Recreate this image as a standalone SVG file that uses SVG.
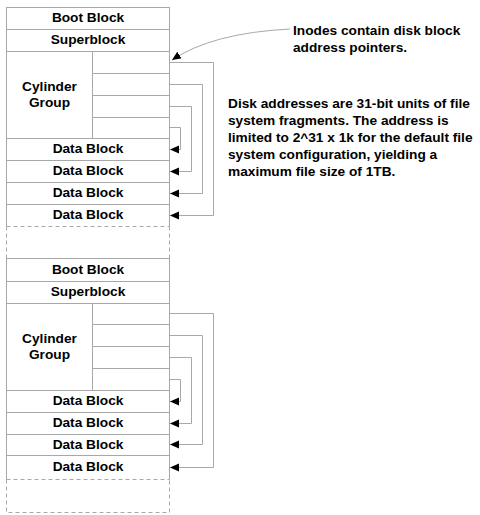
<svg xmlns="http://www.w3.org/2000/svg" width="480" height="515" viewBox="0 0 480 515">
<style>
.box{fill:#fff;stroke:#a8a8a8;stroke-width:1}
.ln{stroke:#a8a8a8;stroke-width:1;fill:none}
.dash{stroke:#a8a8a8;stroke-width:1;fill:none;stroke-dasharray:4 3}
.con{stroke:#a8a8a8;stroke-width:1;fill:none;marker-end:url(#ah)}
text{font-family:"Liberation Sans",Arial,Helvetica,sans-serif;font-weight:bold;font-size:13.7px;fill:#000}
.c{text-anchor:middle}
</style>
<defs>
<marker id="ah" markerUnits="userSpaceOnUse" markerWidth="10" markerHeight="9" refX="9" refY="4" orient="auto" viewBox="0 0 10 9">
<path d="M0,0 L9,4 L0,8 z" fill="#000"/>
</marker>
</defs>
<rect width="480" height="515" fill="#fff"/>

<!-- Stack 1 -->
<g id="stack1">
<path class="dash" d="M6.5 226.5 H169.5 M6.5 226.5 V258 M169.5 226.5 V258"/>
<g id="s1-boot"><rect class="box" x="6.5" y="7.5" width="163" height="22"/><text class="c" x="88" y="22">Boot Block</text></g>
<g id="s1-super"><rect class="box" x="6.5" y="29.5" width="163" height="22"/><text class="c" x="88" y="44">Superblock</text></g>
<g id="s1-cyl"><rect class="box" x="6.5" y="51.5" width="163" height="87"/>
<path class="ln" d="M92.5 51.5 V138.5 M92.5 73.5 H169.5 M92.5 95.5 H169.5 M92.5 117.5 H169.5"/>
<text class="c" x="49.5" y="91">Cylinder</text><text class="c" x="49.5" y="107">Group</text></g>
<g id="s1-d1"><rect class="box" x="6.5" y="138.5" width="163" height="22"/><text class="c" x="88" y="153">Data Block</text></g>
<g id="s1-d2"><rect class="box" x="6.5" y="160.5" width="163" height="22"/><text class="c" x="88" y="175">Data Block</text></g>
<g id="s1-d3"><rect class="box" x="6.5" y="182.5" width="163" height="22"/><text class="c" x="88" y="197">Data Block</text></g>
<g id="s1-d4"><path class="ln" d="M6.5 226.5 V204.5 H169.5 V226.5"/><text class="c" x="88" y="219">Data Block</text></g>
</g>

<!-- Stack 2 -->
<g id="stack2">
<path class="dash" d="M6.5 479.5 H169.5 M6.5 479.5 V512.5 H169.5 V479.5"/>
<g id="s2-boot"><rect class="box" x="6.5" y="258.5" width="163" height="23"/><text class="c" x="88" y="274">Boot Block</text></g>
<g id="s2-super"><rect class="box" x="6.5" y="281.5" width="163" height="22"/><text class="c" x="88" y="296">Superblock</text></g>
<g id="s2-cyl"><rect class="box" x="6.5" y="303.5" width="163" height="87"/>
<path class="ln" d="M92.5 303.5 V390.5 M92.5 324.5 H169.5 M92.5 346.5 H169.5 M92.5 368.5 H169.5"/>
<text class="c" x="49.5" y="343">Cylinder</text><text class="c" x="49.5" y="359">Group</text></g>
<g id="s2-d1"><rect class="box" x="6.5" y="390.5" width="163" height="22"/><text class="c" x="88" y="405">Data Block</text></g>
<g id="s2-d2"><rect class="box" x="6.5" y="412.5" width="163" height="22"/><text class="c" x="88" y="427">Data Block</text></g>
<g id="s2-d3"><rect class="box" x="6.5" y="434.5" width="163" height="21"/><text class="c" x="88" y="449">Data Block</text></g>
<g id="s2-d4"><path class="ln" d="M6.5 479.5 V455.5 H169.5 V479.5"/><text class="c" x="88" y="471">Data Block</text></g>
</g>

<!-- Connectors -->
<g id="connectors">
<path class="con" d="M169.5 62.5 H213.5 V215.5 H170"/>
<path class="con" d="M169.5 84.5 H202.5 V193.5 H170"/>
<path class="con" d="M169.5 106.5 H191.5 V171.5 H170"/>
<path class="con" d="M169.5 127.5 H180.5 V149.5 H170"/>
<path class="con" d="M169.5 313.5 H213.5 V467.5 H170"/>
<path class="con" d="M169.5 335.5 H202.5 V444.5 H170"/>
<path class="con" d="M169.5 357.5 H191.5 V423.5 H170"/>
<path class="con" d="M169.5 379.5 H180.5 V401.5 H170"/>
<path class="con" d="M290 29 Q212 33 172 60"/>
</g>

<!-- Notes -->
<g id="note-inodes">
<text x="293" y="35">Inodes contain disk block</text>
<text x="293" y="52">address pointers.</text>
</g>
<g id="note-disk">
<text x="228" y="108">Disk addresses are 31-bit units of file</text>
<text x="228" y="125">system fragments. The address is</text>
<text x="228" y="142">limited to 2^31 x 1k for the default file</text>
<text x="228" y="159">system configuration, yielding a</text>
<text x="228" y="176">maximum file size of 1TB.</text>
</g>
</svg>
